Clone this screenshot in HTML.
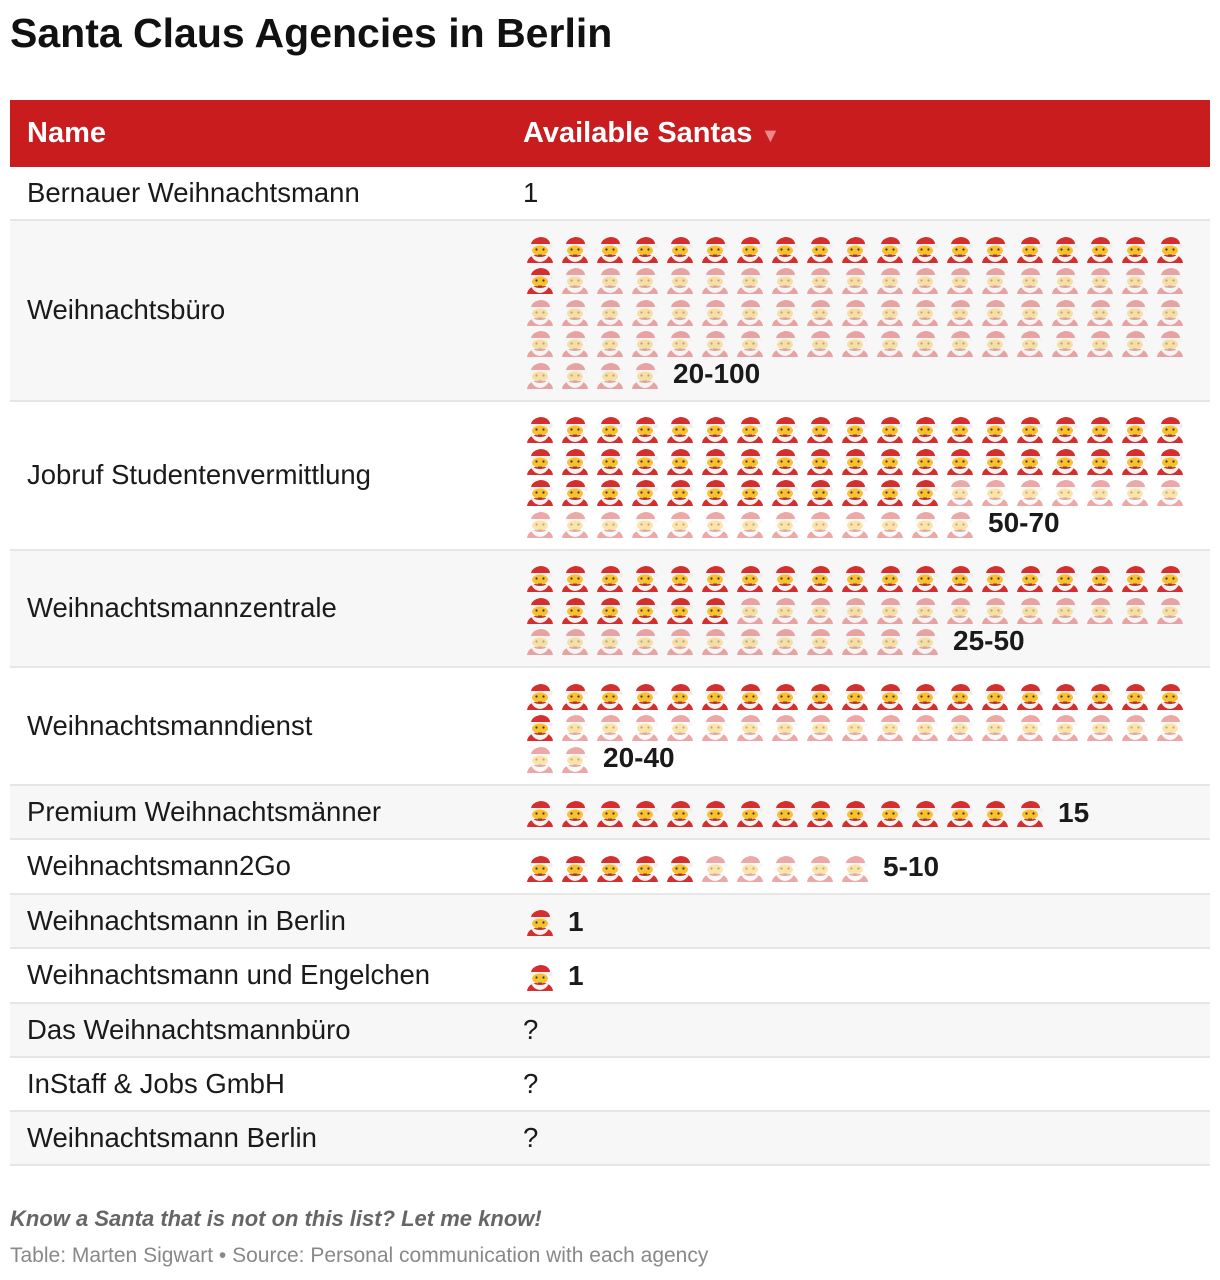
<!DOCTYPE html>
<html><head><meta charset="utf-8">
<style>
body{margin:0;width:1220px;height:1280px;background:#fff;font-family:"Liberation Sans",Arial,sans-serif;color:#1a1a1a;position:relative;overflow:hidden}
h1{position:absolute;left:10px;top:10px;margin:0;font-size:41px;font-weight:bold;color:#111}
table{position:absolute;left:10px;top:100px;width:1200px;border-collapse:collapse;table-layout:fixed}
th{background:#c81c1e;color:#fff;font-size:29px;font-weight:bold;text-align:left;height:67px;padding:0 0 0 17px}
th.v2{padding-left:1px}
td{font-size:27.5px;padding:11px 0 11px 17px;vertical-align:middle;border-bottom:2px solid #e6e6e6;line-height:30px}
tr:nth-child(even) td{background:#f7f7f7}
td.v{padding:11px 0 10px 4px}
.grid{display:flex;flex-wrap:wrap;width:666px;align-items:center}
.ic{width:35px;height:31.5px;display:flex;align-items:center}
.ic.p{opacity:.42}
.lab{font-weight:bold;font-size:28px;margin-left:7px;height:31.5px;line-height:32px}
td.q{padding-left:1px}
.note{position:absolute;left:10px;top:1206px;font-size:22px;font-style:italic;font-weight:bold;color:#666}
.src{position:absolute;left:10px;top:1244px;font-size:21px;color:#888}
</style></head><body>
<h1>Santa Claus Agencies in Berlin</h1>
<svg width="0" height="0" style="position:absolute"><defs><symbol id="santa" viewBox="0 0 28 30">
<path d="M1 30 Q2 22 14 21 Q26 22 27 30Z" fill="#d32f2f"/>
<path d="M5 12 Q5 6 14 4 Q22 4 24 10 L24 13 L5 13Z" fill="#d32f2f"/>
<circle cx="24.5" cy="13" r="2.3" fill="#eee"/>
<rect x="4" y="11" width="20" height="3.5" rx="1.7" fill="#f1f1f1"/>
<ellipse cx="14" cy="17.5" rx="8" ry="5" fill="#fbc02d"/>
<path d="M4 17 Q5 28 14 29 Q23 28 24 17 Q22 24 14 24 Q6 24 4 17Z" fill="#f2f2f2"/>
<circle cx="10.5" cy="16.5" r="1.1" fill="#333"/><circle cx="17.5" cy="16.5" r="1.1" fill="#333"/>
<rect x="12" y="21.5" width="4" height="1.4" fill="#6d4c41"/>
</symbol></defs></svg>
<table>
<colgroup><col style="width:512px"><col style="width:688px"></colgroup>
<thead><tr><th>Name</th><th class="v2">Available Santas <span style="color:#e88;font-size:20px">▼</span></th></tr></thead>
<tbody id="tb"></tbody></table>
<div class="note">Know a Santa that is not on this list? Let me know!</div>
<div class="src">Table: Marten Sigwart • Source: Personal communication with each agency</div>
<script>
const names=["Bernauer Weihnachtsmann","Weihnachtsbüro","Jobruf Studentenvermittlung","Weihnachtsmannzentrale","Weihnachtsmanndienst","Premium Weihnachtsmänner","Weihnachtsmann2Go","Weihnachtsmann in Berlin","Weihnachtsmann und Engelchen","Das Weihnachtsmannbüro","InStaff & Jobs GmbH","Weihnachtsmann Berlin"];
const lowValues=[null,20,50,25,20,15,5,1,1,null,null,null];
const highValues=[null,80,70,50,40,15,10,1,1,null,null,null];
const valueLabels=["1","20-100","50-70","25-50","20-40","15","5-10","1","1","?","?","?"];
const tb=document.getElementById('tb');
names.forEach((n,i)=>{
  const tr=document.createElement('tr');
  
  
  const a=document.createElement('td');a.className='n';a.textContent=n;
  
  
  const b=document.createElement('td');b.className='v';
  
  
  if(highValues[i]==null||(i===0)){b.className='q';b.textContent=valueLabels[i];}
  else{
    const g=document.createElement('div');g.className='grid';
    for(let k=0;k<highValues[i];k++){
      const d=document.createElement('div');d.className='ic'+(k>=lowValues[i]?' p':'');
      
      
      d.innerHTML='<svg width="28" height="30"><use href="#santa"/></svg>';
      g.appendChild(d);
    }
    const l=document.createElement('div');l.className='lab';l.textContent=valueLabels[i];
    
    
    g.appendChild(l);b.appendChild(g);
  }
  tr.appendChild(a);tr.appendChild(b);tb.appendChild(tr);
});
</script>
</body></html>
